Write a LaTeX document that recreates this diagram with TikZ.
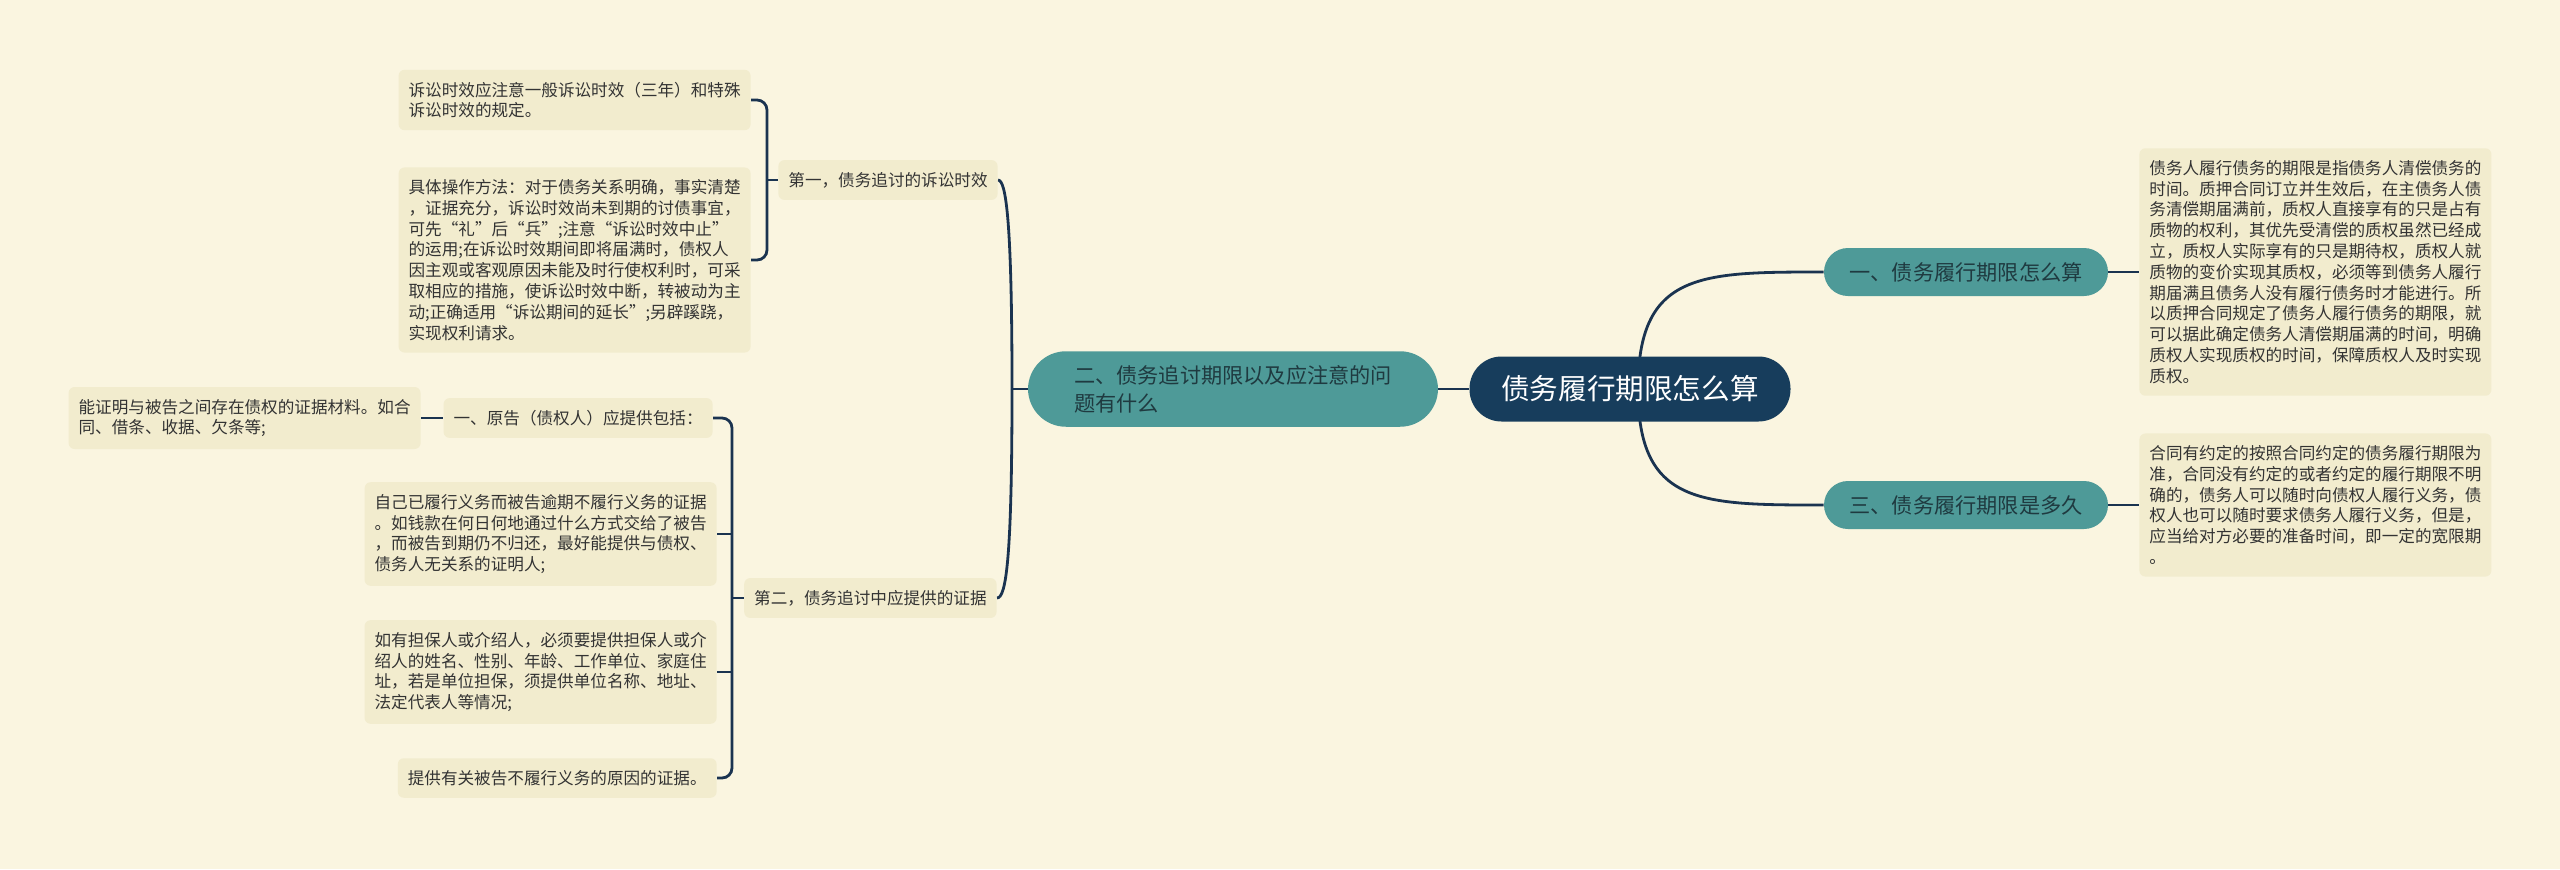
\documentclass[tikz,border=0pt]{standalone}
\usepackage{fontspec}
\setmainfont{Noto Sans CJK SC}
\definecolor{bgc}{HTML}{FAF5E0}
\definecolor{leaff}{HTML}{F2ECCE}
\definecolor{tealc}{HTML}{4E9A98}
\definecolor{rootc}{HTML}{173D5C}
\definecolor{linec}{HTML}{1A3350}
\definecolor{txtc}{HTML}{333333}
\definecolor{tealtxt}{HTML}{1F3A40}
\pgfdeclarelayer{bglayer}
\pgfdeclarelayer{edgelayer}
\pgfsetlayers{bglayer,edgelayer,main}
\tikzset{
  leaf/.style={fill=leaff, rounded corners=3pt, align=left, text=txtc,
    inner xsep=5pt, inner ysep=6pt, font=\fontsize{8.3pt}{10.4pt}\selectfont},
  pill/.style={fill=tealc, rounded corners=12pt, text=tealtxt, align=center,
    minimum width=142pt, minimum height=24pt, inner sep=0pt,
    font=\fontsize{10.6pt}{13.9pt}\selectfont},
  mainpill/.style={fill=tealc, rounded corners=19pt, text=tealtxt, align=left,
    inner xsep=23pt, inner ysep=7pt, font=\fontsize{10.6pt}{13.9pt}\selectfont},
  rootbox/.style={fill=rootc, rounded corners=16pt, text=white, align=center,
    minimum width=160.5pt, minimum height=32.5pt, inner sep=0pt,
    font=\fontsize{14.3pt}{17pt}\selectfont},
  conn/.style={draw=linec, line width=1.4pt, rounded corners=5pt},
}
\begin{document}
\begin{tikzpicture}[x=0.5pt,y=-0.5pt]
\begin{pgfonlayer}{bglayer}
\fill[bgc] (0,0) rectangle (2560,869);
\end{pgfonlayer}
\useasboundingbox (0,0) rectangle (2560,869);

% root and main branches
\node[rootbox] (root) at (1630,389) {债务履行期限怎么算};
\node[mainpill] (main) at (1233,389) {二、债务追讨期限以及应注意的问\\题有什么};
\node[pill] (r1) at (1966,272) {一、债务履行期限怎么算};
\node[pill] (r3) at (1966,505) {三、债务履行期限是多久};

% right leaves
\node[leaf, anchor=west] (rl1) at (2139,272) {债务人履行债务的期限是指债务人清偿债务的\\时间。质押合同订立并生效后，在主债务人债\\务清偿期届满前，质权人直接享有的只是占有\\质物的权利，其优先受清偿的质权虽然已经成\\立，质权人实际享有的只是期待权，质权人就\\质物的变价实现其质权，必须等到债务人履行\\期届满且债务人没有履行债务时才能进行。所\\以质押合同规定了债务人履行债务的期限，就\\可以据此确定债务人清偿期届满的时间，明确\\质权人实现质权的时间，保障质权人及时实现\\质权。};
\node[leaf, anchor=west] (rl2) at (2139,505) {合同有约定的按照合同约定的债务履行期限为\\准，合同没有约定的或者约定的履行期限不明\\确的，债务人可以随时向债权人履行义务，债\\权人也可以随时要求债务人履行义务，但是，\\应当给对方必要的准备时间，即一定的宽限期\\。};

% left sub-branches
\node[leaf, anchor=east] (sub1) at (998,180) {第一，债务追讨的诉讼时效};
\node[leaf, anchor=east] (sub2) at (997,598) {第二，债务追讨中应提供的证据};

\node[leaf, anchor=east] (la) at (751,100) {诉讼时效应注意一般诉讼时效（三年）和特殊\\诉讼时效的规定。};
\node[leaf, anchor=east] (lb) at (751,260) {具体操作方法：对于债务关系明确，事实清楚\\，证据充分，诉讼时效尚未到期的讨债事宜，\\可先“礼”后“兵”;注意“诉讼时效中止”\\的运用;在诉讼时效期间即将届满时，债权人\\因主观或客观原因未能及时行使权利时，可采\\取相应的措施，使诉讼时效中断，转被动为主\\动;正确适用“诉讼期间的延长”;另辟蹊跷，\\实现权利请求。};

\node[leaf, anchor=east] (yg) at (713,418) {一、原告（债权人）应提供包括：};
\node[leaf, anchor=east] (nz) at (421,418) {能证明与被告之间存在债权的证据材料。如合\\同、借条、收据、欠条等;};
\node[leaf, anchor=east] (za) at (717,534) {自己已履行义务而被告逾期不履行义务的证据\\。如钱款在何日何地通过什么方式交给了被告\\，而被告到期仍不归还，最好能提供与债权、\\债务人无关系的证明人;};
\node[leaf, anchor=east] (zb) at (717,672) {如有担保人或介绍人，必须要提供担保人或介\\绍人的姓名、性别、年龄、工作单位、家庭住\\址，若是单位担保，须提供单位名称、地址、\\法定代表人等情况;};
\node[leaf, anchor=east] (zc) at (717,778) {提供有关被告不履行义务的原因的证据。};

\coordinate (rc) at (1638,389);
\coordinate (mc) at (1012,389);
\coordinate (b1) at (767,180);
\coordinate (b2) at (732,598);

\begin{pgfonlayer}{edgelayer}
\draw[conn] (main.east) -- (root.west);
\draw[conn] (rc) .. controls (1638,272) and (1700,272) .. (r1.west);
\draw[conn] (rc) .. controls (1638,505) and (1700,505) .. (r3.west);
\draw[conn] (r1.east) -- (rl1.west);
\draw[conn] (r3.east) -- (rl2.west);

\draw[conn] (main.west) -- (mc);
\draw[conn] (mc) .. controls (1012,220) and (1006,180) .. (sub1.east);
\draw[conn] (mc) .. controls (1012,560) and (1006,598) .. (sub2.east);

\draw[conn] (la.east) -- (767,100) -- (767,260) -- (lb.east);
\draw[conn] (b1) -- (sub1.west);

\draw[conn] (yg.east) -- (732,418) -- (732,778) -- (zc.east);
\draw[conn] (za.east) -- (732,534);
\draw[conn] (zb.east) -- (732,672);
\draw[conn] (b2) -- (sub2.west);
\draw[conn] (nz.east) -- (yg.west);
\end{pgfonlayer}
\end{tikzpicture}
\end{document}
